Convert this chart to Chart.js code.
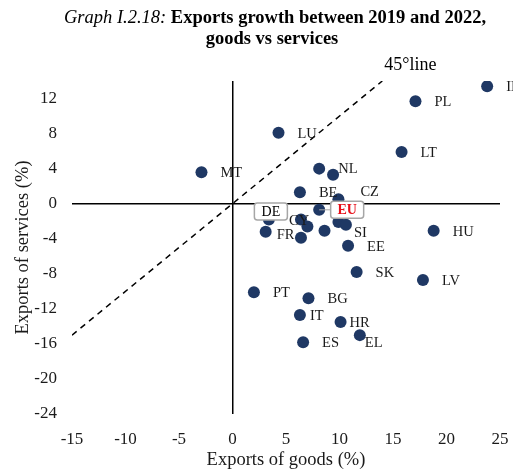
<!DOCTYPE html>
<html>
<head>
<meta charset="utf-8">
<script src="https://cdn.jsdelivr.net/npm/chart.js@4.4.0/dist/chart.umd.min.js"></script>
<style>
  html, body { margin: 0; padding: 0; background: #fff; }
  #wrap { width: 513px; height: 471px; position: relative; }
</style>
</head>
<body>
<div id="wrap"><canvas id="exportsChart"></canvas></div>
<script>
// Growth of exports 2019-2022 (%)
const countries = ['IE', 'PL', 'LT', 'LU', 'MT', 'NL', '', 'BE', 'CZ', 'EU', 'DE', 'CY', '', 'FR', '', '', '', 'SI', 'EE', 'HU', 'SK', 'LV', 'PT', 'BG', 'IT', 'HR', 'EL', 'ES'];
const goodsGrowth = [23.8, 17.1, 15.8, 4.3, -2.9, 8.1, 9.4, 6.3, 9.9, 8.1, 3.4, 6.4, 7.0, 3.1, 6.4, 8.6, 9.9, 10.6, 10.8, 18.8, 11.6, 17.8, 2.0, 7.1, 6.3, 10.1, 11.9, 6.6];
const servicesGrowth = [13.4, 11.7, 5.9, 8.1, 3.6, 4.0, 3.3, 1.3, 0.5, -0.7, -1.8, -1.8, -2.6, -3.2, -3.9, -3.1, -2.1, -2.4, -4.8, -3.1, -7.8, -8.7, -10.1, -10.8, -12.7, -13.5, -15.0, -15.8];
const diagonal = [-15, 14];
const xTicks = [-15, -10, -5, 0, 5, 10, 15, 20, 25];
const yTicks = [-24, -20, -16, -12, -8, -4, 0, 4, 8, 12];

const serif = "'Liberation Serif', 'Times New Roman', serif";
const navy = '#1f3864';

// labels that don't sit in the default spot right of the dot
const labelShift = {
    CZ: { dx: 22, dy: -8 },
    FR: { dx: 11, dy: 2 },
    SI: { dx: 8, dy: 7 },
    IT: { dx: 10, dy: 0 },
    HR: { dx: 9, dy: 0 },
    EL: { dx: 5, dy: 7 },
    CY: { dx: -12, dy: 1 }
};
// boxed labels
const callouts = {
    DE: { dx: 2, dy: -8, color: '#000', bold: false, leader: false },
    EU: { dx: 28, dy: 0, color: '#e8101a', bold: true, leader: true }
};

function roundRect(ctx, x, y, w, h, r) {
    ctx.beginPath();
    ctx.moveTo(x + r, y);
    ctx.lineTo(x + w - r, y);
    ctx.quadraticCurveTo(x + w, y, x + w, y + r);
    ctx.lineTo(x + w, y + h - r);
    ctx.quadraticCurveTo(x + w, y + h, x + w - r, y + h);
    ctx.lineTo(x + r, y + h);
    ctx.quadraticCurveTo(x, y + h, x, y + h - r);
    ctx.lineTo(x, y + r);
    ctx.quadraticCurveTo(x, y, x + r, y);
    ctx.closePath();
}

const titlePlugin = {
    id: 'graphTitle',
    afterDraw(chart) {
        const ctx = chart.ctx;
        const cx = 275;
        ctx.save();
        ctx.fillStyle = '#000';
        ctx.textBaseline = 'middle';
        ctx.textAlign = 'left';
        const part1 = 'Graph I.2.18: ';
        const part2 = 'Exports growth between 2019 and 2022,';
        ctx.font = 'italic 18.5px ' + serif;
        const w1 = ctx.measureText(part1).width;
        ctx.font = 'bold 18.5px ' + serif;
        const w2 = ctx.measureText(part2).width;
        let x = cx - (w1 + w2) / 2;
        ctx.font = 'italic 18.5px ' + serif;
        ctx.fillText(part1, x, 18);
        ctx.font = 'bold 18.5px ' + serif;
        ctx.fillText(part2, x + w1, 18);
        ctx.textAlign = 'center';
        ctx.fillText('goods vs services', cx - 3, 39);
        ctx.restore();
    }
};

const labelPlugin = {
    id: 'pointLabels',
    afterDatasetsDraw(chart) {
        const ctx = chart.ctx;
        const xs = chart.scales.x, ys = chart.scales.y;
        const pts = chart.getDatasetMeta(1).data;
        ctx.save();

        // 45 degree line caption
        ctx.font = '18px ' + serif;
        ctx.fillStyle = '#000';
        ctx.textAlign = 'left';
        ctx.textBaseline = 'middle';
        ctx.fillText('45\u00b0line', xs.getPixelForValue(diagonal[1]) + 2, ys.getPixelForValue(diagonal[1]) - 16);

        pts.forEach((p, i) => {
            const name = countries[i];
            if (!name) return;
            if (callouts[name]) {
                const c = callouts[name];
                const bx = p.x + c.dx, by = p.y + c.dy;
                const w = 33, h = 17;
                if (c.leader) {
                    ctx.strokeStyle = '#a6a6a6';
                    ctx.lineWidth = 1;
                    ctx.beginPath();
                    ctx.moveTo(p.x, p.y);
                    ctx.lineTo(bx - w / 2, by);
                    ctx.stroke();
                }
                roundRect(ctx, bx - w / 2, by - h / 2, w, h, 3);
                ctx.fillStyle = '#fff';
                ctx.fill();
                ctx.strokeStyle = '#a6a6a6';
                ctx.lineWidth = 1.5;
                ctx.stroke();
                ctx.font = (c.bold ? 'bold ' : '') + '14px ' + serif;
                ctx.fillStyle = c.color;
                ctx.textAlign = 'center';
                ctx.fillText(name, bx, by + 1);
                return;
            }
            const s = labelShift[name] || { dx: 19, dy: 0 };
            ctx.font = '14.5px ' + serif;
            ctx.fillStyle = '#1a1a1a';
            ctx.textAlign = 'left';
            ctx.fillText(name, p.x + s.dx, p.y + s.dy + 1);
        });
        ctx.restore();
    }
};

const axisLine = (c) => (c.tick && c.tick.value === 0 ? '#000' : 'rgba(0,0,0,0)');

const ctx = document.getElementById('exportsChart').getContext('2d');
const exportsChart = new Chart(ctx, {
    type: 'scatter',
    data: {
        datasets: [
            {
                type: 'line',
                data: diagonal.map(v => ({ x: v, y: v })),
                borderColor: '#000',
                borderWidth: 1.5,
                borderDash: [6, 5],
                pointRadius: 0,
                fill: false,
                order: 2
            },
            {
                data: goodsGrowth.map((g, i) => ({ x: g, y: servicesGrowth[i] })),
                backgroundColor: navy,
                borderWidth: 0,
                pointRadius: 6,
                pointHoverRadius: 6,
                order: 1
            }
        ]
    },
    options: {
        responsive: true,
        maintainAspectRatio: false,
        animation: false,
        layout: { padding: { top: 81, right: 13, left: 0, bottom: 0 } },
        plugins: {
            legend: { display: false },
            tooltip: { enabled: false }
        },
        scales: {
            x: {
                type: 'linear',
                min: -15,
                max: 25,
                afterBuildTicks: s => { s.ticks = xTicks.map(v => ({ value: v })); },
                afterFit: s => { s.height = 57; s.paddingLeft = 0; s.paddingRight = 0; },
                border: { display: false },
                grid: { drawTicks: false, color: axisLine, lineWidth: 1.5 },
                ticks: {
                    padding: 15,
                    color: '#1a1a1a',
                    autoSkip: false,
                    maxRotation: 0,
                    font: { family: serif, size: 17 }
                },
                title: {
                    display: true,
                    text: 'Exports of goods (%)',
                    color: '#1a1a1a',
                    padding: { top: 0, bottom: 0 },
                    font: { family: serif, size: 18.5 }
                }
            },
            y: {
                type: 'linear',
                min: -24,
                max: 14,
                afterBuildTicks: s => { s.ticks = yTicks.map(v => ({ value: v })); },
                afterFit: s => { s.width = 72; s.paddingTop = 0; s.paddingBottom = 0; },
                border: { display: false },
                grid: { drawTicks: false, color: axisLine, lineWidth: 1.5 },
                ticks: {
                    padding: 15,
                    color: '#1a1a1a',
                    autoSkip: false,
                    font: { family: serif, size: 17 }
                },
                title: {
                    display: true,
                    text: 'Exports of services (%)',
                    color: '#1a1a1a',
                    padding: { top: 12, bottom: 0 },
                    font: { family: serif, size: 18.5 }
                }
            }
        }
    },
    plugins: [titlePlugin, labelPlugin]
});
</script>
</body>
</html>
